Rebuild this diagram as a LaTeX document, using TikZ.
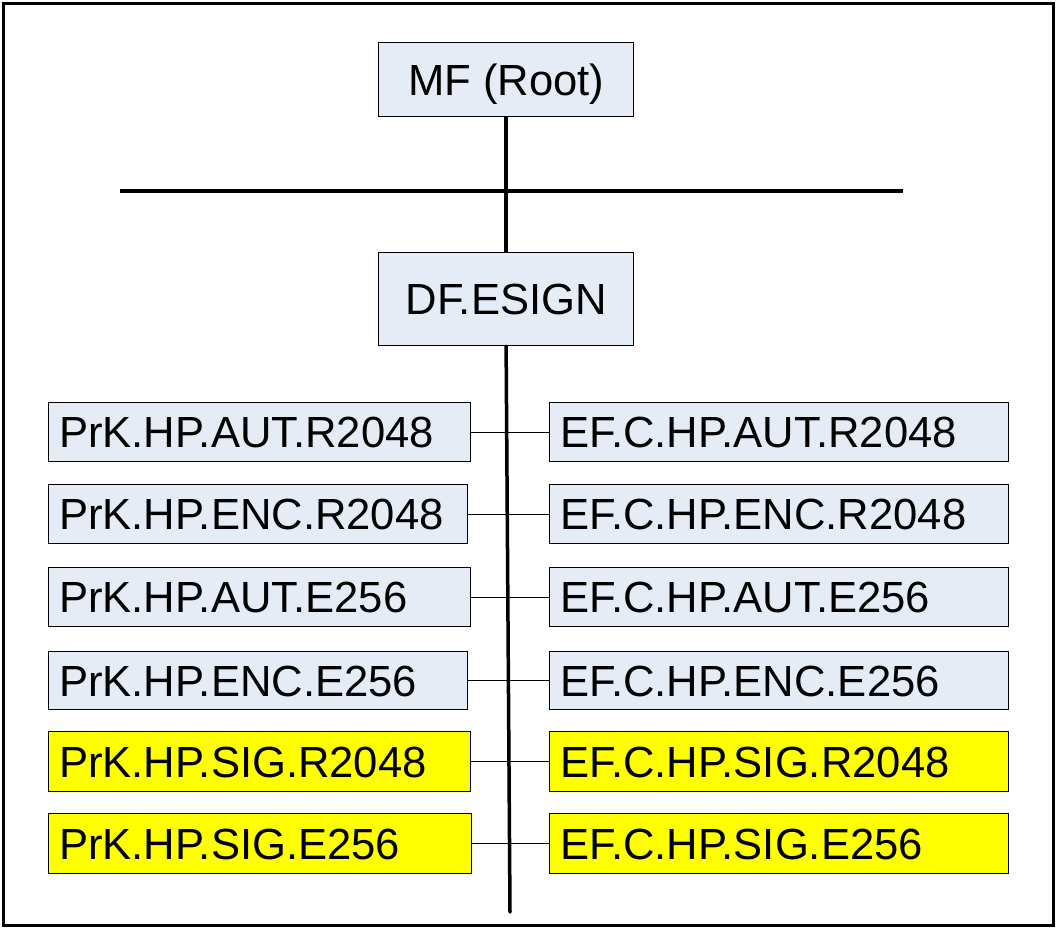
\documentclass[tikz,border=0pt]{standalone}
\usepackage{fontspec}
\setmainfont{Liberation Sans}
\definecolor{boxblue}{RGB}{230,236,246}
\definecolor{boxyellow}{RGB}{255,255,0}
\begin{document}
\begin{tikzpicture}[x=1pt,y=-1pt,
  every node/.style={font=\fontsize{43.6}{52}\selectfont},
  rootbox/.style={draw=black,line width=1.2pt,fill=boxblue,anchor=north west,inner sep=0pt,
     minimum width=255pt,text height=31pt,text depth=0pt},
  leafbox/.style={draw=black,line width=1.2pt,anchor=north west,inner xsep=10.5pt,inner ysep=0pt,
     text height=31pt,text depth=0pt,align=left},
  bluebox/.style={leafbox,fill=boxblue},
  yelbox/.style={leafbox,fill=boxyellow},
  thick line/.style={line width=3.5pt},
  thin line/.style={line width=1.2pt}]
\useasboundingbox (0,0) rectangle (1058,930);
\draw[line width=3.2pt] (3.5,3.5) rectangle (1053.5,925.5);

\node[rootbox,minimum height=74pt] (mf) at (378,42) {MF (Root)};
\node[rootbox,minimum height=93pt] (df) at (378,252) {DF.ESIGN};

% left column
\node[bluebox,text width=401pt,minimum height=59pt] (l1) at (48,402) {PrK.HP.AUT.R2048};
\node[bluebox,text width=398pt,minimum height=59pt] (l2) at (48,484) {PrK.HP.ENC.R2048};
\node[bluebox,text width=401pt,minimum height=59pt] (l3) at (48,567) {PrK.HP.AUT.E256};
\node[bluebox,text width=398pt,minimum height=58pt] (l4) at (48,651) {PrK.HP.ENC.E256};
\node[yelbox,text width=401pt,minimum height=60pt] (l5) at (48,731) {PrK.HP.SIG.R2048};
\node[yelbox,text width=402pt,minimum height=60pt] (l6) at (48,813) {PrK.HP.SIG.E256};

% right column
\node[bluebox,text width=438pt,minimum height=59pt] (r1) at (549,402) {EF.C.HP.AUT.R2048};
\node[bluebox,text width=438pt,minimum height=59pt] (r2) at (549,484) {EF.C.HP.ENC.R2048};
\node[bluebox,text width=438pt,minimum height=59pt] (r3) at (549,567) {EF.C.HP.AUT.E256};
\node[bluebox,text width=438pt,minimum height=58pt] (r4) at (549,651) {EF.C.HP.ENC.E256};
\node[yelbox,text width=438pt,minimum height=60pt] (r5) at (549,731) {EF.C.HP.SIG.R2048};
\node[yelbox,text width=438pt,minimum height=60pt] (r6) at (549,813) {EF.C.HP.SIG.E256};

\coordinate (busL) at (120,191);
\coordinate (busR) at (903,191);
\coordinate (trunkEnd) at (510,912);

\draw[thick line] (busL) -- (busR);
\draw[thick line] (mf.south) -- (df.north);
\draw[thick line,line cap=round] (df.south) -- (trunkEnd);

\foreach \i in {1,...,6}{
  \draw[thin line] (l\i.east) -- (r\i.west);
}
\end{tikzpicture}
\end{document}
